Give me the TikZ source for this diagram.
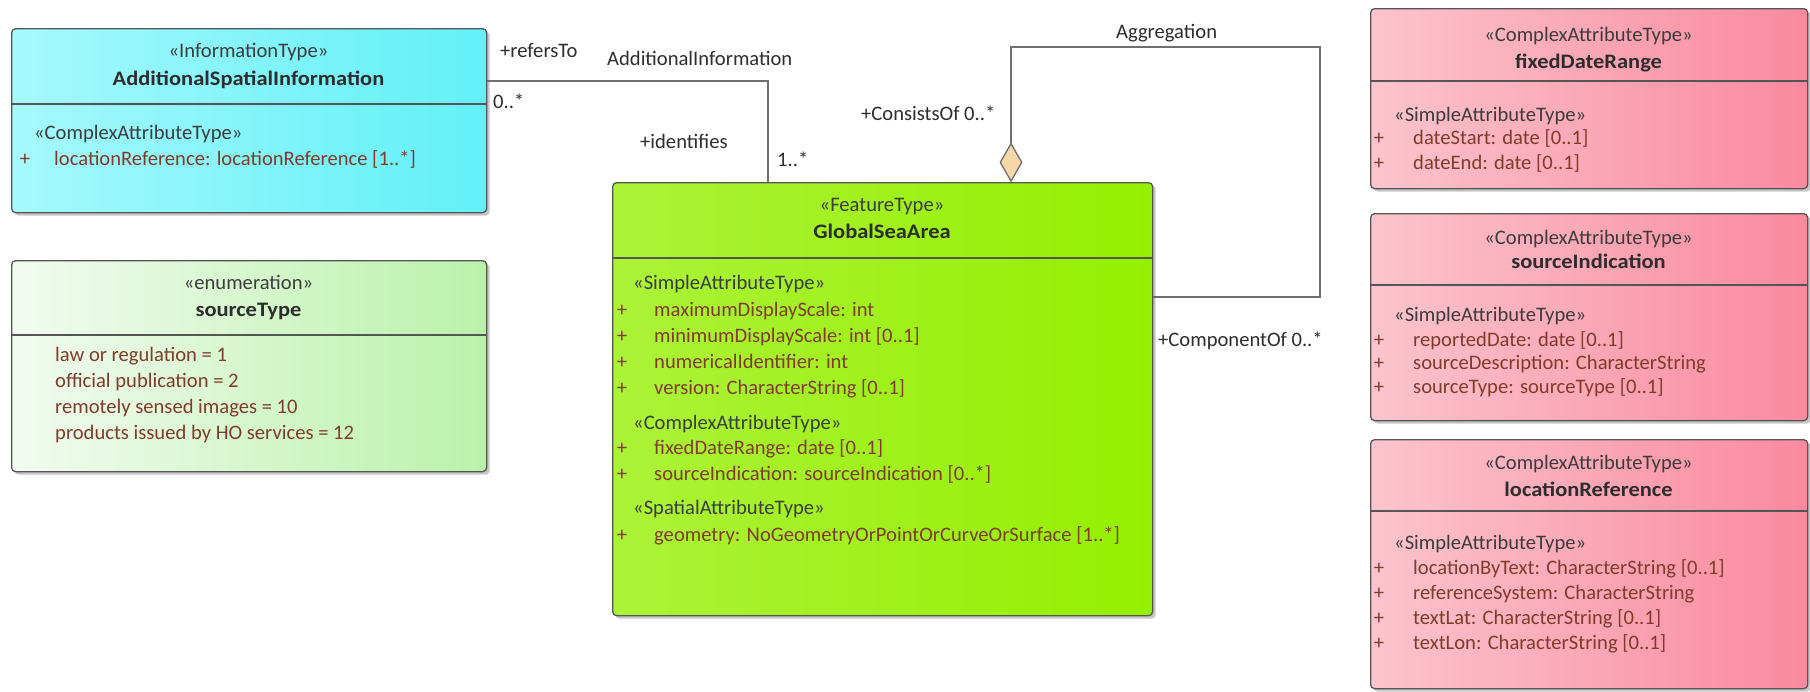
\documentclass[tikz,border=0pt]{standalone}
\usepackage{fontspec}
\setmainfont{Carlito}
\newfontfamily\namefont[FakeStretch=1.09]{Carlito}
\usetikzlibrary{shapes.geometric,shadows}
\definecolor{attrc}{RGB}{128,60,42}
\definecolor{sterc}{RGB}{60,60,60}
\definecolor{namec}{RGB}{45,45,45}
\definecolor{linec}{RGB}{110,110,110}
\definecolor{edgec}{RGB}{85,85,85}
\definecolor{cyanL}{RGB}{166,249,252}
\definecolor{cyanR}{RGB}{98,240,248}
\definecolor{enumL}{RGB}{242,251,240}
\definecolor{enumR}{RGB}{186,242,170}
\definecolor{limeL}{RGB}{172,242,56}
\definecolor{limeR}{RGB}{148,240,0}
\definecolor{pinkL}{RGB}{252,196,206}
\definecolor{pinkR}{RGB}{249,138,158}
\definecolor{diamc}{RGB}{246,215,168}
\tikzset{
  umlbox/.style={draw=edgec, line width=1.3pt, rounded corners=4pt, anchor=north west, inner sep=0pt,
    drop shadow={shadow xshift=3pt, shadow yshift=-3pt, fill=black, opacity=0.22}},
  divider/.style={draw=edgec, line width=1.3pt},
  conn/.style={draw=linec, line width=1.3pt},
  txt/.style={inner sep=0pt, font=\fontsize{20.6}{23}\selectfont},
  ster/.style={txt, anchor=base, text=sterc},
  sterl/.style={txt, anchor=base west, text=sterc},
  cname/.style={txt, anchor=base, text=namec, font=\fontsize{20.6}{23}\selectfont\namefont\bfseries},
  attr/.style={txt, anchor=base west, text=attrc},
  plus/.style={txt, anchor=base, text=attrc},
  lbl/.style={txt, anchor=base west, text=namec},
}
\begin{document}
\begin{tikzpicture}[x=1pt,y=-1pt]
\useasboundingbox (0,0) rectangle (1810,691);

% ---------- AdditionalSpatialInformation ----------
\node[umlbox, left color=cyanL, right color=cyanR, minimum width=475pt, minimum height=184pt] (asi) at (11,28) {};
\draw[divider] (asi.west |- 0,104) -- (asi.east |- 0,104);
\node[ster] (asiS) at (248.5,57) {«InformationType»};
\node[cname] (asiN) at (248.5,85) {AdditionalSpatialInformation};
\node[sterl] (asiC) at (34,139) {«ComplexAttributeType»};
\node[plus] (asiP1) at (25,165) {+};
\node[attr] (asiA1) at (54,165) {locationReference: locationReference [1..*]};

% ---------- sourceType ----------
\node[umlbox, left color=enumL, right color=enumR, minimum width=475pt, minimum height=211pt] (st) at (11,260) {};
\draw[divider] (st.west |- 0,335) -- (st.east |- 0,335);
\node[ster] (stS) at (248.5,289) {«enumeration»};
\node[cname] (stN) at (248.5,316) {sourceType};
\node[attr] (stA1) at (55,361) {law or regulation = 1};
\node[attr] (stA2) at (55,387) {official publication = 2};
\node[attr] (stA3) at (55,413) {remotely sensed images = 10};
\node[attr] (stA4) at (55,439) {products issued by HO services = 12};

% ---------- GlobalSeaArea ----------
\node[umlbox, left color=limeL, right color=limeR, minimum width=540pt, minimum height=433pt] (gsa) at (612,182) {};
\draw[divider] (gsa.west |- 0,258) -- (gsa.east |- 0,258);
\node[ster] (gsaS) at (882,211) {«FeatureType»};
\node[cname] (gsaN) at (882,238) {GlobalSeaArea};
\node[sterl] (gsaC1) at (633,289) {«SimpleAttributeType»};
\node[plus] (gsaP1) at (622,316) {+};
\node[attr] (gsaA1) at (654,316) {maximumDisplayScale: int};
\node[plus] (gsaP2) at (622,342) {+};
\node[attr] (gsaA2) at (654,342) {minimumDisplayScale: int [0..1]};
\node[plus] (gsaP3) at (622,368) {+};
\node[attr] (gsaA3) at (654,368) {numericalIdentifier: int};
\node[plus] (gsaP4) at (622,394) {+};
\node[attr] (gsaA4) at (654,394) {version: CharacterString [0..1]};
\node[sterl] (gsaC2) at (633,429) {«ComplexAttributeType»};
\node[plus] (gsaP5) at (622,454) {+};
\node[attr] (gsaA5) at (654,454) {fixedDateRange: date [0..1]};
\node[plus] (gsaP6) at (622,480) {+};
\node[attr] (gsaA6) at (654,480) {sourceIndication: sourceIndication [0..*]};
\node[sterl] (gsaC3) at (633,514) {«SpatialAttributeType»};
\node[plus] (gsaP7) at (622,541) {+};
\node[attr] (gsaA7) at (654,541) {geometry: NoGeometryOrPointOrCurveOrSurface [1..*]};

% ---------- fixedDateRange ----------
\node[umlbox, left color=pinkL, right color=pinkR, minimum width=437pt, minimum height=180pt] (fdr) at (1370,8) {};
\draw[divider] (fdr.west |- 0,81) -- (fdr.east |- 0,81);
\node[ster] (fdrS) at (1588.5,41) {«ComplexAttributeType»};
\node[cname] (fdrN) at (1588.5,68) {fixedDateRange};
\node[sterl] (fdrC) at (1394,121) {«SimpleAttributeType»};
\node[plus] (fdrP1) at (1379,144) {+};
\node[attr] (fdrA1) at (1413,144) {dateStart: date [0..1]};
\node[plus] (fdrP2) at (1379,169) {+};
\node[attr] (fdrA2) at (1413,169) {dateEnd: date [0..1]};

% ---------- sourceIndication ----------
\node[umlbox, left color=pinkL, right color=pinkR, minimum width=437pt, minimum height=207pt] (si) at (1370,213) {};
\draw[divider] (si.west |- 0,285) -- (si.east |- 0,285);
\node[ster] (siS) at (1588.5,244) {«ComplexAttributeType»};
\node[cname] (siN) at (1588.5,268) {sourceIndication};
\node[sterl] (siC) at (1394,321) {«SimpleAttributeType»};
\node[plus] (siP1) at (1379,346) {+};
\node[attr] (siA1) at (1413,346) {reportedDate: date [0..1]};
\node[plus] (siP2) at (1379,369) {+};
\node[attr] (siA2) at (1413,369) {sourceDescription: CharacterString};
\node[plus] (siP3) at (1379,393) {+};
\node[attr] (siA3) at (1413,393) {sourceType: sourceType [0..1]};

% ---------- locationReference ----------
\node[umlbox, left color=pinkL, right color=pinkR, minimum width=437pt, minimum height=249pt] (lr) at (1370,439) {};
\draw[divider] (lr.west |- 0,511) -- (lr.east |- 0,511);
\node[ster] (lrS) at (1588.5,469) {«ComplexAttributeType»};
\node[cname] (lrN) at (1588.5,496) {locationReference};
\node[sterl] (lrC) at (1394,549) {«SimpleAttributeType»};
\node[plus] (lrP1) at (1379,574) {+};
\node[attr] (lrA1) at (1413,574) {locationByText: CharacterString [0..1]};
\node[plus] (lrP2) at (1379,599) {+};
\node[attr] (lrA2) at (1413,599) {referenceSystem: CharacterString};
\node[plus] (lrP3) at (1379,624) {+};
\node[attr] (lrA3) at (1413,624) {textLat: CharacterString [0..1]};
\node[plus] (lrP4) at (1379,649) {+};
\node[attr] (lrA4) at (1413,649) {textLon: CharacterString [0..1]};

% ---------- association AdditionalInformation ----------
\draw[conn] ([yshift=-53pt]asi.north east) -| ([xshift=156pt]gsa.north west);
\node[lbl] (lRefers) at (500,57) {+refersTo};
\node[lbl] (lZero) at (493,108) {0..*};
\node[lbl] (lAddInfo) at (607,65) {AdditionalInformation};
\node[lbl] (lIdent) at (640,148) {+identifies};
\node[lbl] (lOne) at (777,166) {1..*};

% ---------- aggregation (self) ----------
\node[diamond, draw=linec, line width=1.3pt, fill=diamc, minimum width=22pt, minimum height=38pt, inner sep=0pt, anchor=south] (dia) at ([xshift=399pt]gsa.north west) {};
\coordinate (aggTR) at (1320,47);
\draw[conn] (dia.north) |- (aggTR) |- ([yshift=-115pt]gsa.north east);
\node[lbl] (lAgg) at (1116,38) {Aggregation};
\node[lbl] (lCons) at (861,120) {+ConsistsOf 0..*};
\node[lbl] (lComp) at (1158,346) {+ComponentOf 0..*};
\end{tikzpicture}
\end{document}
